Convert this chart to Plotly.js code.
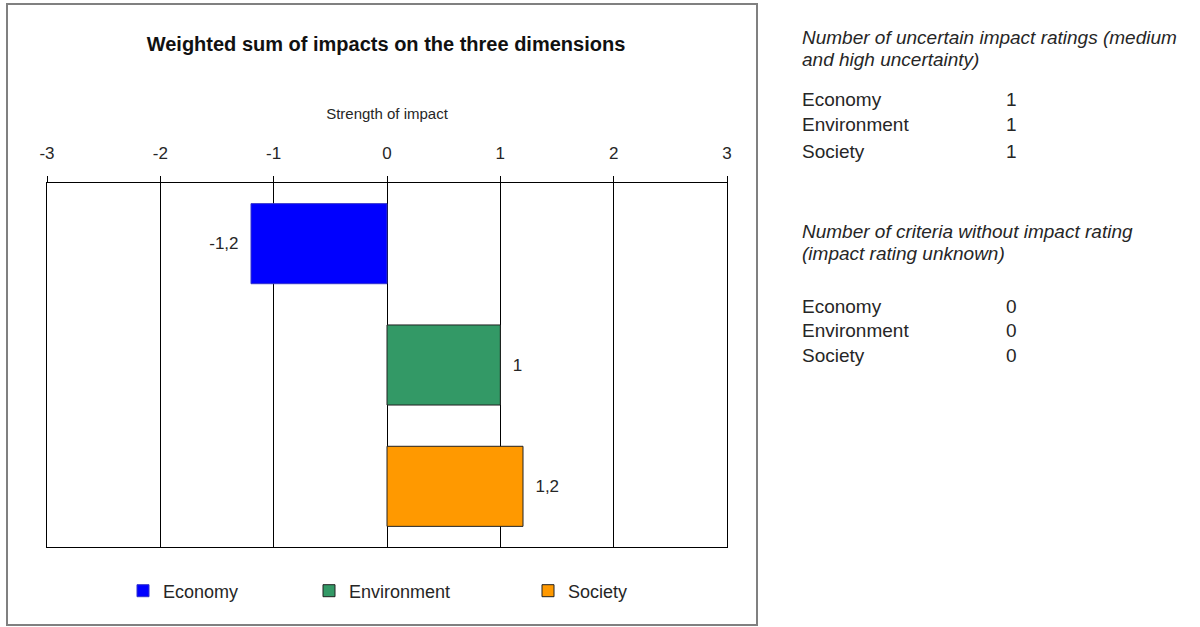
<!DOCTYPE html>
<html>
<head>
<meta charset="utf-8">
<script src="https://cdn.plot.ly/plotly-3.0.1.min.js"></script>
<style>html,body{margin:0;padding:0;background:#fff;}#chart{width:1200px;height:627px;}</style>
</head>
<body>
<div id="chart"></div>
<script>
// ---- data ----
const categories = ['Economy', 'Environment', 'Society'];
const impacts = [-1.2, 1, 1.2];
const tickValues = [-3, -2, -1, 0, 1, 2, 3];
const tickLabels = ['-3', '-2', '-1', '0', '1', '2', '3'];
const uncertainCounts = [1, 1, 1];
const unknownCounts = [0, 0, 0];
const chartTitle = 'Weighted sum of impacts on the three dimensions';
const axisTitle = 'Strength of impact';
const uncertainHeader = ['Number of uncertain impact ratings (medium', 'and high uncertainty)'];
const unknownHeader = ['Number of criteria without impact rating', '(impact rating unknown)'];

// ---- styles ----
const fillColors = ['#0000FF', '#339966', '#FF9900'];
const lineColors = ['#3333cc', '#222222', '#222222'];
const FONT = 'Liberation Sans, Arial, sans-serif';
const TXT = '#262626';
const PAD = '\u00a0\u00a0';

// plot area in pixels
const W = 1200, H = 627;
const L = 47, R = 727, T = 183, B = 547;
const px2x = p => (p - L) / (R - L);
const py2y = p => (B - p) / (B - T);

const legendLeft = [123, 309, 528];
const traces = categories.map((c, i) => {
  const label = String(impacts[i]).replace('.', ',');
  return {
    type: 'bar',
    orientation: 'h',
    name: c,
    y: [c],
    x: [impacts[i]],
    text: [impacts[i] < 0 ? label + PAD : PAD + label],
    textposition: 'outside',
    cliponaxis: false,
    textfont: {family: FONT, size: 17, color: TXT},
    marker: {color: fillColors[i], line: {color: lineColors[i], width: 1}},
    legend: i === 0 ? 'legend' : 'legend' + (i + 1),
    hoverinfo: 'x+name'
  };
});

function legendCfg(i) {
  return {
    orientation: 'h',
    x: px2x(legendLeft[i]), xanchor: 'left',
    y: py2y(591), yanchor: 'middle',
    font: {family: FONT, size: 18, color: TXT},
    bgcolor: 'rgba(0,0,0,0)'
  };
}

const annotations = [];
function addText(text, xpx, ypx, italic, anchor) {
  annotations.push({
    xref: 'paper', yref: 'paper',
    x: px2x(xpx), y: py2y(ypx),
    xanchor: anchor || 'left', yanchor: 'middle',
    text: italic ? '<i>' + text + '</i>' : text,
    showarrow: false,
    font: {family: FONT, size: 19, color: TXT}
  });
}
addText(uncertainHeader[0], 800, 37, true);
addText(uncertainHeader[1], 800, 59, true);
const rowY1 = [100, 125, 151];
categories.forEach((c, i) => {
  addText(c, 800, rowY1[i], false);
  addText(String(uncertainCounts[i]), 1011, rowY1[i], false, 'center');
});
addText(unknownHeader[0], 800, 231, true);
addText(unknownHeader[1], 800, 253, true);
const rowY2 = [306, 330, 355];
categories.forEach((c, i) => {
  addText(c, 800, rowY2[i], false);
  addText(String(unknownCounts[i]), 1011, rowY2[i], false, 'center');
});

const layout = {
  width: W, height: H,
  margin: {l: L, r: W - R, t: T, b: H - B, pad: 0},
  paper_bgcolor: '#ffffff',
  plot_bgcolor: '#ffffff',
  font: {family: FONT, color: TXT},
  separators: ',.',
  barmode: 'relative',
  bargap: 0.34,
  showlegend: true,
  title: {
    text: '<b>' + chartTitle + '</b>',
    font: {family: FONT, size: 20, color: '#111'},
    xref: 'paper', x: px2x(386), xanchor: 'center',
    yref: 'container', y: 1 - 44 / H, yanchor: 'middle'
  },
  xaxis: {
    side: 'top',
    range: [-3, 3],
    tickmode: 'array',
    tickvals: tickValues,
    ticktext: tickLabels,
    ticks: 'outside', ticklen: 6, tickcolor: '#000', tickwidth: 1,
    ticklabelstandoff: 10,
    tickfont: {family: FONT, size: 17, color: TXT},
    showgrid: true, gridcolor: '#000', gridwidth: 1,
    zeroline: true, zerolinecolor: '#000', zerolinewidth: 1,
    showline: true, linecolor: '#000', linewidth: 1, mirror: true,
    fixedrange: true,
    title: {text: axisTitle, font: {family: FONT, size: 15, color: TXT}, standoff: 20}
  },
  yaxis: {
    type: 'category',
    categoryorder: 'array',
    categoryarray: categories,
    autorange: 'reversed',
    showticklabels: false,
    ticks: '',
    showgrid: false,
    zeroline: false,
    showline: true, linecolor: '#000', linewidth: 1, mirror: true,
    fixedrange: true
  },
  legend: legendCfg(0),
  legend2: legendCfg(1),
  legend3: legendCfg(2),
  annotations: annotations,
  shapes: [{
    type: 'rect', xref: 'paper', yref: 'paper',
    x0: px2x(7), x1: px2x(757), y0: py2y(625), y1: py2y(4),
    line: {color: '#808080', width: 2}, fillcolor: 'rgba(0,0,0,0)', layer: 'below'
  }]
};

Plotly.newPlot('chart', traces, layout, {displayModeBar: false, staticPlot: true});
</script>
</body>
</html>
